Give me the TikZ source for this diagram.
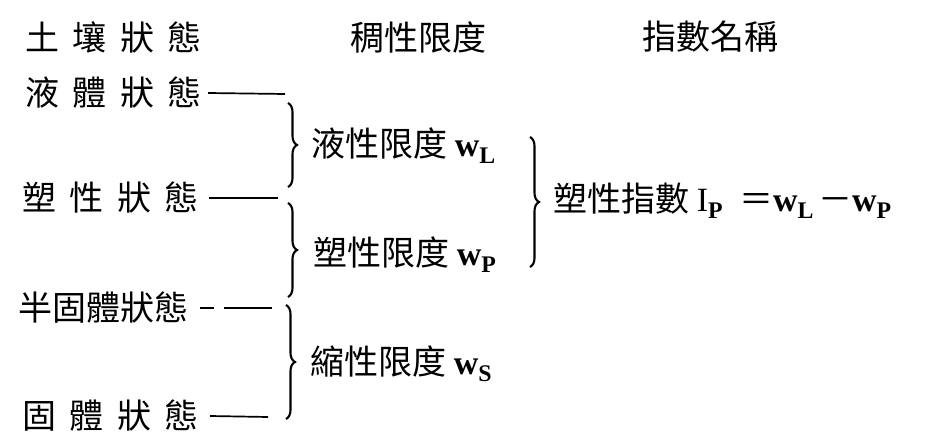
\documentclass[tikz,border=0pt]{standalone}
\usepackage{fontspec}
\setmainfont{Liberation Serif}
\newfontfamily\cjk{Noto Sans CJK TC}
\usetikzlibrary{decorations.pathreplacing}

\newcommand{\zgap}{\hspace{0.4em}}

\begin{document}
\begin{tikzpicture}[
  x=1pt, y=-1pt,
  every node/.style={inner sep=0pt, anchor=west, font=\fontsize{34}{40}\selectfont\cjk},
  tie/.style={draw, line width=1.7pt},
  curly/.style={draw, decorate, decoration={brace, amplitude=9pt}, line width=2.1pt}
]
\useasboundingbox (0,0) rectangle (930,444);

% headings
\node (soil)  at (25,37)  {土\zgap 壤\zgap 狀\zgap 態};
\node (limit) at (350,37) {稠性限度};
\node (index) at (642,37) {指數名稱};

% states of the soil
\node (liquid)    at (25,93)  {液\zgap 體\zgap 狀\zgap 態};
\node (plastic)   at (22,198) {塑\zgap 性\zgap 狀\zgap 態};
\node (semisolid) at (18,308) {半固體狀態};
\node (solid)     at (22,416) {固\zgap 體\zgap 狀\zgap 態};

\coordinate (liqend)  at (285,94);
\coordinate (plaend)  at (278,198);
\coordinate (semiend) at (272,308);
\coordinate (solend)  at (268,417);

\draw[tie] ([xshift=6pt]liquid.east) -- (liqend);
\draw[tie] ([xshift=10pt]plastic.east) -- (plaend);
\draw[tie, dash pattern=on 14pt off 10pt on 60pt] ([xshift=12pt]semisolid.east) -- (semiend);
\draw[tie] ([xshift=11pt]solid.east) -- (solend);

% braces between the states
\coordinate (b1top) at (288,103);
\coordinate (b1bot) at (288,187);
\coordinate (b2top) at (288,203);
\coordinate (b2bot) at (288,297);
\coordinate (b3top) at (286,305);
\coordinate (b3bot) at (286,419);
\draw[curly] (b1top) -- (b1bot);
\draw[curly] (b2top) -- (b2bot);
\draw[curly] (b3top) -- (b3bot);

% limits
\node (ll) at (311,146) {液性限度 $\mathbf{w}_{\mathbf{L}}$};
\node (pl) at (313,255) {塑性限度 $\mathbf{w}_{\mathbf{P}}$};
\node (sl) at (310,364) {縮性限度 $\mathbf{w}_{\mathbf{S}}$};

% plasticity index
\coordinate (b4top) at (530,137);
\coordinate (b4bot) at (530,267);
\draw[curly] (b4top) -- (b4bot);
\node (pi) at (553,201) {塑性指數 $\mathrm{I}_{\mathbf{P}}$\hspace{16pt}＝$\mathbf{w}_{\mathbf{L}}$\hspace{4pt}－$\mathbf{w}_{\mathbf{P}}$};
\end{tikzpicture}
\end{document}
